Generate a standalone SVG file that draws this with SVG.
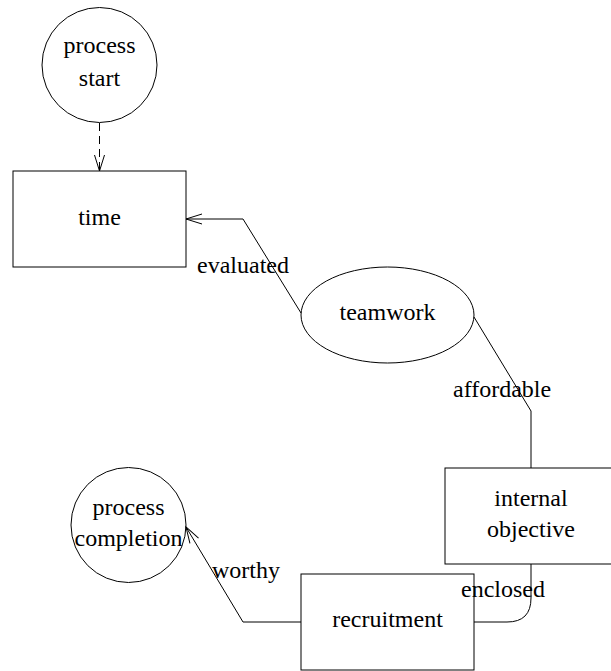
<svg xmlns="http://www.w3.org/2000/svg" width="611" height="671" viewBox="0 0 611 671">
<style>
.n{fill:#fff;stroke:#000;stroke-width:1}
.t{font-size:24px;fill:#000;text-anchor:middle}
.l{font-size:24px;fill:#000}
.e{fill:none;stroke:#000;stroke-width:1}
</style>
<defs>
<marker id="arr" markerUnits="userSpaceOnUse" markerWidth="20" markerHeight="14" refX="18" refY="7" orient="auto" viewBox="0 0 20 14">
<path d="M2,2 L18,7 L2,12" fill="none" stroke="#000" stroke-width="1"/>
</marker>
</defs>
<g font-family="'Liberation Serif', 'Times New Roman', Times, 'DejaVu Serif', serif">
<g id="process-start">
<circle class="n" cx="99.5" cy="65" r="57.5"/>
<text class="t" x="99.5" y="53">process</text>
<text class="t" x="99.5" y="86">start</text>
</g>
<g id="time">
<rect class="n" x="13" y="171" width="173" height="96"/>
<text class="t" x="99.5" y="225">time</text>
</g>
<g id="teamwork">
<ellipse class="n" cx="387.5" cy="315" rx="86.5" ry="48"/>
<text class="t" x="387.5" y="320">teamwork</text>
</g>
<g id="internal-objective">
<rect class="n" x="445" y="468" width="173" height="96"/>
<text class="t" x="531" y="506">internal</text>
<text class="t" x="531" y="537">objective</text>
</g>
<g id="recruitment">
<rect class="n" x="301" y="574" width="173" height="96"/>
<text class="t" x="387.5" y="627">recruitment</text>
</g>
<g id="process-completion">
<circle class="n" cx="128.5" cy="525" r="57.5"/>
<text class="t" x="128.5" y="515">process</text>
<text class="t" x="128.5" y="546">completion</text>
</g>
<g id="connectors">
<path class="e" d="M99.5,123 L99.5,171" stroke-dasharray="8,5" marker-end="url(#arr)"/>
<path class="e" d="M301,313 L243,219 L186,219" marker-end="url(#arr)"/>
<path class="e" d="M474,317 L531,411 L531,468"/>
<path class="e" d="M531,564 L531,598 Q531,622 507,622 L474,622"/>
<path class="e" d="M301,622 L243,622 L186,527" marker-end="url(#arr)"/>
<text class="l" x="197" y="273">evaluated</text>
<text class="l" x="453" y="397">affordable</text>
<text class="l" x="461" y="597">enclosed</text>
<text class="l" x="212" y="578">worthy</text>
</g>
</g>
</svg>
